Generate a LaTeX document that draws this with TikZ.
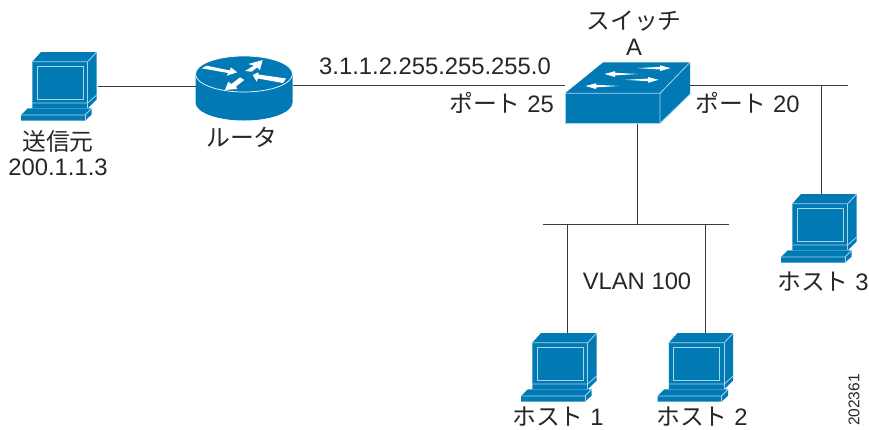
\documentclass[tikz,border=0pt]{standalone}
\usepackage{fontspec}
\setmainfont{Liberation Sans}
\newfontfamily\cjk{Noto Sans CJK JP}
\definecolor{ciscoblue}{HTML}{0079B5}
\definecolor{edgeblue}{HTML}{A9D5EA}
\definecolor{linkgray}{HTML}{3A3A3A}
\tikzset{
  devfill/.style={fill=ciscoblue, draw=none},
  devline/.style={draw=edgeblue, line width=0.8pt, line join=round},
  flowarrow/.style={fill=white, draw=none},
  link/.style={draw=linkgray, line width=0.9pt},
  lbl/.style={inner sep=0pt, font=\fontsize{23.8}{28}\selectfont, text=black!85},
  computer/.pic={
    \path[devfill] (11.3,9.7) -- (20,0) -- (75.7,0) -- (75.7,47.5) -- (66.7,56.3) -- (11.3,56.3) -- cycle;
    \path[devfill] (0,63) -- (6.7,56.3) -- (70.7,56.3) -- (70.7,62.5) -- (64,68.7) -- (0,68.7) -- cycle;
    \draw[devline] (11.3,9.7) -- (66.7,9.7) -- (75.7,0);
    \draw[devline] (66.7,9.7) -- (66.7,56.3);
    \draw[devline] (16,14) rectangle (62,47.5);
    \draw[devline] (11.3,51) -- (66.7,51) -- (75.7,43);
    \draw[devline] (0,63) -- (64,63) -- (70.7,56.3);
    \draw[devline] (64,63) -- (64,68.7);
  },
  routericon/.pic={
    \path[fill=ciscoblue] (-48.5,0) -- (-48.5,28.5) arc[start angle=180, end angle=360, x radius=48.5, y radius=-18] -- (48.5,0) -- cycle;
    \path[fill=ciscoblue, draw=white, line width=0.7pt] (0,0) ellipse[x radius=48.5, y radius=18];
    \path[flowarrow] (-42.3,-5.7) -- (-37.3,-8.3) -- (-14,-3.5) -- (-13.3,-6.7) -- (-6.7,-1.7) -- (-17.3,1.7) -- (-16,-1) -- cycle;
    \path[flowarrow] (1,-3) -- (10,-8.5) -- (4.3,-10) -- (18.7,-14) -- (16,-4) -- (13,-6.5) -- (7.7,-2.3) -- cycle;
    \path[flowarrow] (8.7,1) -- (14.3,-1.7) -- (14.5,0.5) -- (42,4.5) -- (39,9) -- (14,4.5) -- (12.7,7.7) -- cycle;
    \path[flowarrow] (-19,16) -- (-15.7,7.7) -- (-12.5,10) -- (-4,3.3) -- (0.3,6) -- (-8,12.5) -- (-6.7,15) -- cycle;
  },
  switchicon/.pic={
    \path[devfill] (0,0) -- (38.3,-31) -- (125,-31) -- (125,1) -- (95,30) -- (0,30) -- cycle;
    \draw[devline] (0,0) -- (95,0) -- (125,-31);
    \draw[devline] (95,0) -- (95,30) -- (125,1);
    \draw[devline] (0,0) -- (0,30) -- (95,30);
    \foreach \fx/\fy/\fd in {72/-25.2/1, 60/-13.5/1, 73/-19.3/-1, 54/-7.3/-1}
      \path[flowarrow] (\fx,\fy) -- ++(\fd*23,-1.2) -- ++(0,-1.6) -- ++(\fd*10.5,2.8) -- ++(-\fd*10.5,3) -- ++(0,-1.6) -- cycle;
  }
}
\begin{document}
\begin{tikzpicture}[x=1pt, y=-1pt, node distance=100pt]
  \useasboundingbox (0,0) rectangle (869,429);
  % anchors for the devices
  \node[coordinate] (src) at (98,86) {};
  \node[coordinate] (rtr) at (244,74) {};
  \node[coordinate] (rtrin) at (196,86) {};
  \node[coordinate] (rtrout) at (293,85) {};
  \node[coordinate] (swin) at (565,85) {};
  \node[coordinate] (swout) at (690,85) {};
  \node[coordinate] (swdown) at (637,123) {};
  \node[coordinate, right of=swout, node distance=158pt] (lan) {};
  \node[coordinate] (tap) at (821,85) {};
  \node[coordinate] (hostc) at (821,208) {};
  \node[coordinate] (busc) at (637,224) {};
  \node[coordinate] (busl) at (543,224) {};
  \node[coordinate] (busr) at (729,224) {};
  \node[coordinate] (bustapa) at (567,224) {};
  \node[coordinate] (bustapb) at (705,224) {};
  \node[coordinate] (hosta) at (567,345) {};
  \node[coordinate] (hostb) at (705,345) {};

  \draw[link] (src) -- (rtrin);
  \draw[link] (rtrout) -- (swin);
  \draw[link] (swout) -- (lan);
  \draw[link] (tap) -- (hostc);
  \draw[link] (swdown) -- (busc);
  \draw[link] (busl) -- (busr);
  \draw[link] (bustapa) -- (hosta);
  \draw[link] (bustapb) -- (hostb);

  \pic at (21,52) {computer};
  \pic at (781,194) {computer};
  \pic at (521,333) {computer};
  \pic at (657.5,333) {computer};
  \pic at (rtr) {routericon};
  \pic at (565,93.3) {switchicon};

  \node[lbl] (srcname) at (58,141) {\cjk 送信元};
  \node[lbl, below of=srcname, node distance=26pt] (srcaddr) {200.1.1.3};
  \node[lbl] (rtrname) at (242,137) {\cjk ルータ};
  \node[lbl] (addr) at (435,66) {3.1.1.2.255.255.255.0};
  \node[lbl] (swname) at (634,21) {\cjk スイッチ};
  \node[lbl, below of=swname, node distance=26pt] (swid) {A};
  \node[lbl, anchor=east] (port25) at (554,103) {{\cjk ポート} 25};
  \node[lbl, anchor=west] (port20) at (695,103) {{\cjk ポート} 20};
  \node[lbl] (vlan) at (637,281) {VLAN 100};
  \node[lbl] (hostcname) at (823,282) {{\cjk ホスト} 3};
  \node[lbl] (hostaname) at (558,416.5) {{\cjk ホスト} 1};
  \node[lbl] (hostbname) at (702,416.5) {{\cjk ホスト} 2};
  \node[inner sep=0pt, rotate=90, font=\fontsize{15.5}{18}\selectfont, text=black!85] (figid) at (854,400) {202361};
\end{tikzpicture}
\end{document}
